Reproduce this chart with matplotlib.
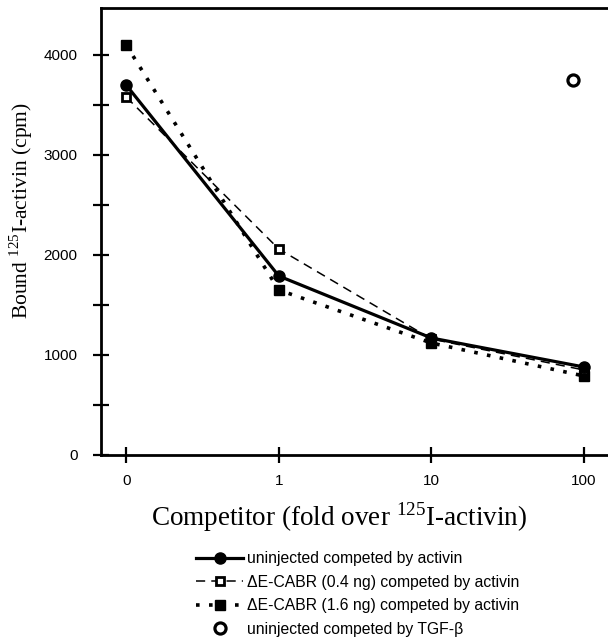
import matplotlib
matplotlib.use("Agg")
import matplotlib.pyplot as plt
from matplotlib.ticker import MultipleLocator

# dados
categorias = ["0", "1", "10", "100"]
posicoes = [0, 1, 2, 3]
unin_activin = [3700, 1790, 1170, 880]
cabr_04 = [3580, 2060, 1160, 850]
cabr_16 = [4100, 1650, 1120, 790]
tgf_x = [2.93]
tgf_y = [3750]

plt.rcParams["font.family"] = ["Liberation Sans", "DejaVu Sans"]
plt.rcParams["mathtext.fontset"] = "custom"
plt.rcParams["mathtext.rm"] = "Liberation Serif"

W, H = 608, 642
fig = plt.figure(figsize=(W / 100, H / 100), dpi=100)
ax = fig.add_axes([101 / W, 1 - 455 / H, (620 - 101) / W, (455 - 8) / H])

ax.plot(posicoes, cabr_16, color="black", lw=2.6, linestyle=(0, (1, 2.6)),
        dash_capstyle="butt", marker="s", ms=7, mfc="black", mec="black",
        label="\u0394E-CABR (1.6 ng) competed by activin", zorder=3)
ax.plot(posicoes, cabr_04, color="black", lw=1.1, linestyle=(0, (6, 4)),
        marker="s", ms=6, mfc="white", mec="black", mew=2,
        label="\u0394E-CABR (0.4 ng) competed by activin", zorder=4)
ax.plot(posicoes, unin_activin, color="black", lw=2.3, marker="o", ms=8,
        mfc="black", mec="black",
        label="uninjected competed by activin", zorder=5)
ax.plot(tgf_x, tgf_y, linestyle="none", marker="o", ms=8, mfc="white",
        mec="black", mew=2.3, label="uninjected competed by TGF-\u03b2", zorder=5)

ax.set_xlim(-0.165, 3 + (620 - 584) / 152.7)
ax.set_ylim(0, 4470)
ax.set_xticks(posicoes)
ax.set_xticklabels(categorias)
ax.yaxis.set_major_locator(MultipleLocator(1000))
ax.yaxis.set_minor_locator(MultipleLocator(500))

for s in ["left", "bottom", "top"]:
    ax.spines[s].set_linewidth(2)
ax.spines["right"].set_visible(False)

ax.tick_params(axis="both", which="both", direction="inout", length=12,
               width=1.6, labelsize=11)
ax.tick_params(axis="y", pad=11)
ax.tick_params(axis="x", pad=8)

ax.set_ylabel("Bound $^{125}$I-activin (cpm)", family="Liberation Serif",
              fontsize=15.5)
ax.yaxis.set_label_coords(-66 / 519, (455 - 211) / 447)
ax.set_xlabel("Competitor (fold over $^{125}$I-activin)",
              family="Liberation Serif", fontsize=19.5)
ax.xaxis.set_label_coords((339 - 101) / 519, (455 - 500) / 447)

handles, labels = ax.get_legend_handles_labels()
ordem = [2, 1, 0, 3]
fig.legend([handles[i] for i in ordem], [labels[i] for i in ordem],
           loc="upper left", bbox_to_anchor=(196 / W, 1 - 551 / H),
           frameon=False, fontsize=11.3, handlelength=3.0, handletextpad=0.25,
           labelspacing=0.55, borderpad=0, borderaxespad=0, numpoints=1)

fig.savefig("out.png", dpi=100)
